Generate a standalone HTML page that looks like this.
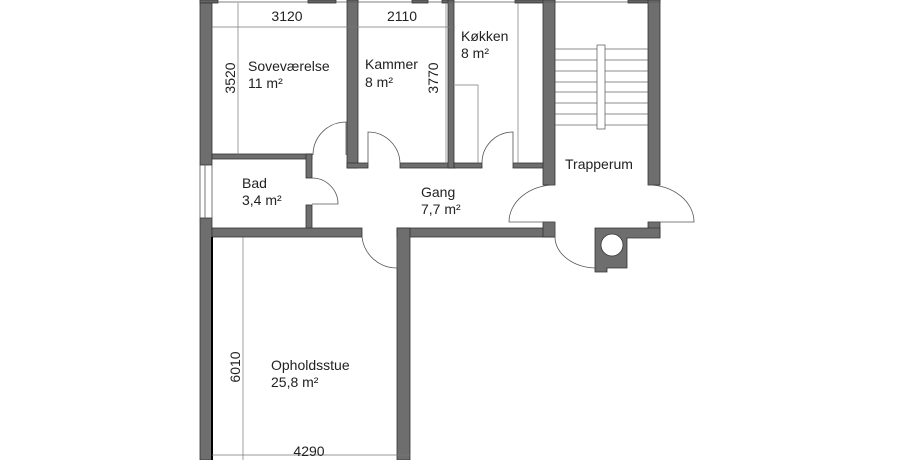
<!DOCTYPE html>
<html><head><meta charset="utf-8"><style>
html,body{margin:0;padding:0;background:#fff;width:905px;height:460px;overflow:hidden}
svg{display:block}
text{font-family:"Liberation Sans",sans-serif;font-size:14px;fill:#222}
</style></head><body>
<svg width="905" height="460" viewBox="0 0 905 460" xmlns="http://www.w3.org/2000/svg">
<g fill="#6e6e6e" stroke="#333" stroke-width="0.8">
<rect x="200" y="0" width="12" height="165"/>
<rect x="200" y="218" width="12" height="242"/>
<rect x="200" y="0" width="18" height="3"/>
<rect x="308" y="0" width="28" height="3"/>
<rect x="352" y="0" width="6" height="3"/>
<rect x="412" y="0" width="16" height="3"/>
<rect x="442" y="0" width="10" height="3"/>
<rect x="515" y="0" width="40" height="3"/>
<rect x="628" y="0" width="32" height="3"/>
<rect x="212" y="154" width="100" height="5"/>
<rect x="306" y="154" width="6" height="24"/>
<rect x="306" y="205" width="6" height="24"/>
<rect x="347" y="0" width="11" height="168"/>
<rect x="347" y="163" width="21" height="5"/>
<rect x="400" y="163" width="55" height="5"/>
<rect x="448" y="0" width="6" height="168"/>
<rect x="454" y="163" width="28" height="5"/>
<rect x="513" y="163" width="35" height="5"/>
<rect x="543" y="0" width="12" height="185"/>
<rect x="648" y="0" width="12" height="185"/>
<rect x="212" y="228" width="150" height="9"/>
<rect x="397" y="228" width="158" height="9"/>
<rect x="397" y="228" width="13" height="232"/>
<rect x="543" y="222" width="12" height="15"/>
<rect x="648" y="222" width="12" height="15"/>
<path d="M595 228 H660 V238 H627 V268 H607 V272 H595 Z"/>
</g>
<circle cx="612" cy="245" r="11" fill="#fff" stroke="#333" stroke-width="0.8"/>
<g stroke="#555" stroke-width="0.8" fill="none">
<line x1="200" y1="165" x2="200" y2="218"/>
<line x1="205" y1="165" x2="205" y2="218"/>
<line x1="212" y1="165" x2="212" y2="218"/>
<line x1="200" y1="2" x2="660" y2="2"/>
</g>
<line x1="212" y1="237" x2="212" y2="460" stroke="#000" stroke-width="2"/>
<g stroke="#666" stroke-width="0.8">
<line x1="555" y1="49" x2="648" y2="49"/><line x1="555" y1="60" x2="648" y2="60"/>
<line x1="555" y1="71" x2="648" y2="71"/><line x1="555" y1="82" x2="648" y2="82"/>
<line x1="555" y1="92" x2="648" y2="92"/><line x1="555" y1="103" x2="648" y2="103"/>
<line x1="555" y1="114" x2="648" y2="114"/><line x1="555" y1="125" x2="648" y2="125"/>
</g>
<rect x="597" y="45" width="8" height="84" fill="#fff" stroke="#666" stroke-width="0.8"/>
<g stroke="#777" stroke-width="0.7" fill="none">
<line x1="212" y1="27" x2="455" y2="27"/>
<line x1="238" y1="3" x2="238" y2="155"/>
<line x1="446" y1="3" x2="446" y2="165"/>
<line x1="518" y1="3" x2="518" y2="163"/>
<polyline points="455,85 478,85 478,163"/>
<line x1="243" y1="237" x2="243" y2="460"/>
<line x1="410" y1="455" x2="212" y2="455"/>
</g>
<g stroke="#555" stroke-width="0.8" fill="none">
<path d="M346 155 V122 A33 33 0 0 0 313 155"/>
<path d="M368 165 V132 A32 32 0 0 1 400 164"/>
<path d="M513 165 V132 A31 31 0 0 0 482 163"/>
<path d="M312 178 A26 26 0 0 1 338 204 H312"/>
<path d="M397 237 V268 A35 35 0 0 1 362 237"/>
<path d="M555 185 A46 37 0 0 0 509 222 H555"/>
<path d="M648 185 A46 37 0 0 1 694 222 H648"/>
<path d="M555 222 V237 A42 31 0 0 0 597 268"/>
</g>
<text x="287" y="21" text-anchor="middle">3120</text>
<text x="402" y="21" text-anchor="middle">2110</text>
<text transform="translate(235,78) rotate(-90)" text-anchor="middle">3520</text>
<text transform="translate(438,78) rotate(-90)" text-anchor="middle">3770</text>
<text transform="translate(240,367) rotate(-90)" text-anchor="middle">6010</text>
<text x="309" y="456" text-anchor="middle">4290</text>
<text x="248" y="71">Soveværelse</text><text x="248" y="88">11 m²</text>
<text x="365" y="69">Kammer</text><text x="365" y="87">8 m²</text>
<text x="461" y="41">Køkken</text><text x="461" y="58">8 m²</text>
<text x="242" y="188">Bad</text><text x="242" y="205">3,4 m²</text>
<text x="421" y="197">Gang</text><text x="421" y="214">7,7 m²</text>
<text x="565" y="169">Trapperum</text>
<text x="271" y="370">Opholdsstue</text><text x="271" y="387">25,8 m²</text>
</svg>
</body></html>
